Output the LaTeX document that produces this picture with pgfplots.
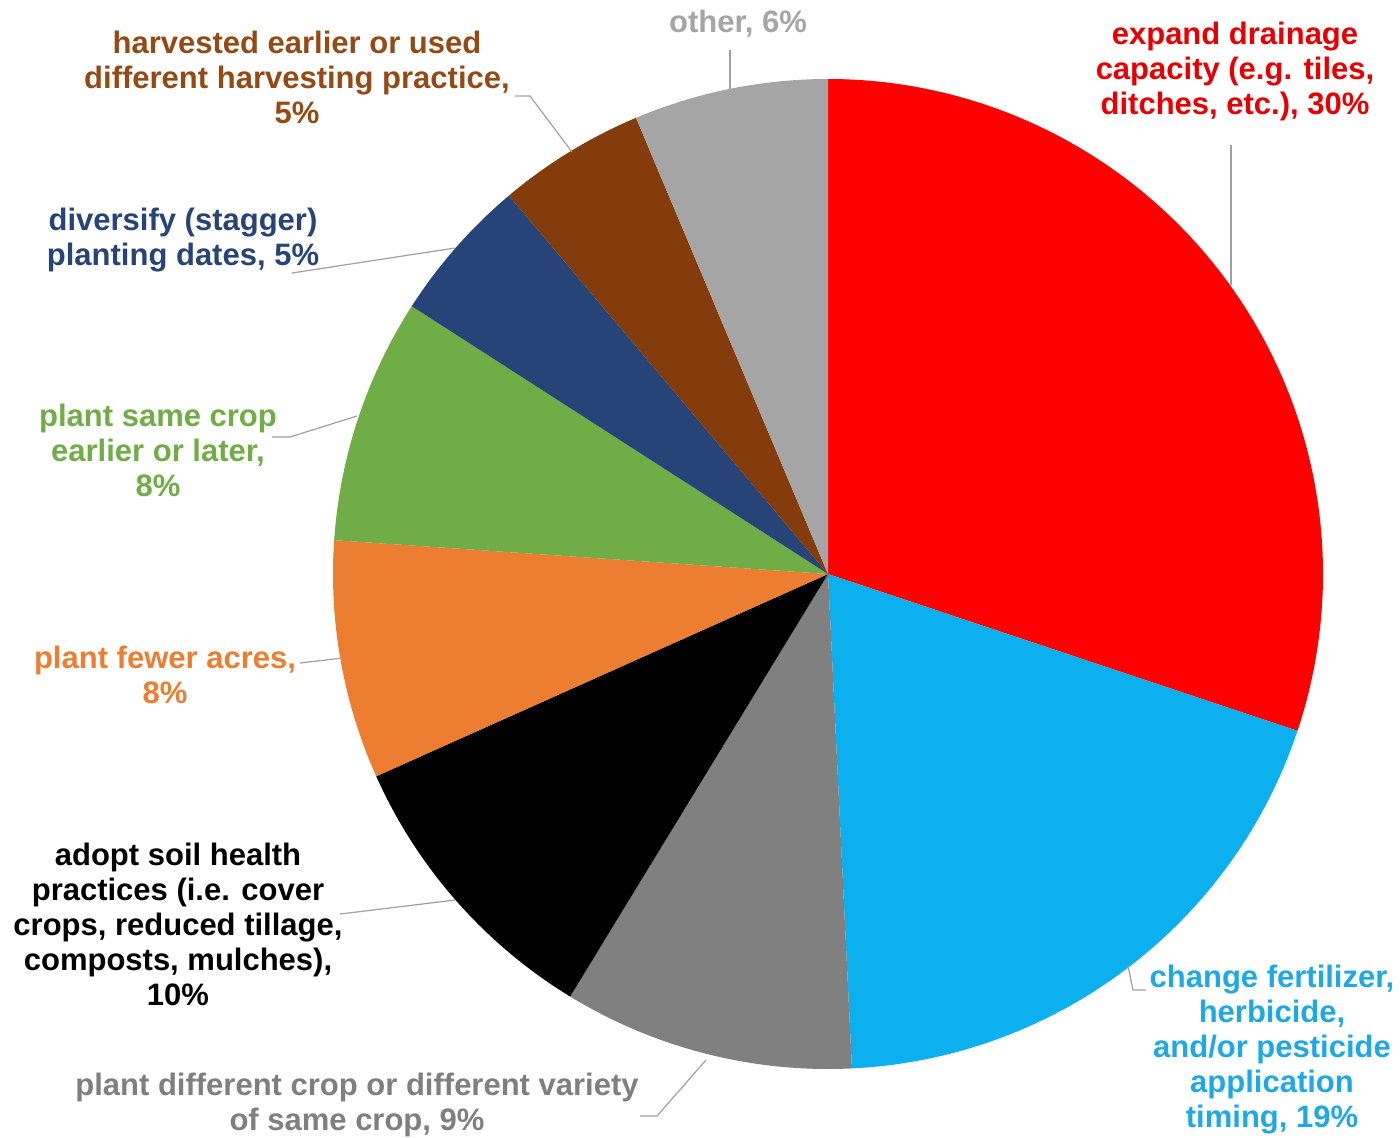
\documentclass[border=0pt]{standalone}
\usepackage{pgfplots}
\pgfplotsset{compat=1.18}
\usepackage{pgfplotstable}
\usepackage{fontspec}
\setmainfont{Liberation Sans}
\definecolor{cRed}{HTML}{FF0000}
\definecolor{cCyan}{HTML}{0DB0EE}
\definecolor{cGray}{HTML}{808080}
\definecolor{cBlack}{HTML}{000000}
\definecolor{cOrange}{HTML}{ED7D31}
\definecolor{cGreen}{HTML}{70AD47}
\definecolor{cNavy}{HTML}{264478}
\definecolor{cBrown}{HTML}{843C0C}
\definecolor{cLight}{HTML}{A5A5A5}
\definecolor{tRed}{HTML}{E80000}
\definecolor{tCyan}{HTML}{1EA9E4}
\definecolor{tGray}{HTML}{7F7F7F}
\definecolor{tBrown}{HTML}{954A15}
\definecolor{leader}{HTML}{A0A0A0}
\tikzset{lbl/.style={align=center,font=\bfseries\fontsize{15.5}{17.5}\selectfont}}
\pgfplotstableread[col sep=comma]{
label,value,color
drainage,30.13,cRed
fertilizer,19.10,cCyan
diffcrop,9.49,cGray
soilhealth,9.58,cBlack
fewer,7.79,cOrange
samecrop,8.01,cGreen
diversify,4.75,cNavy
harvest,4.81,cBrown
other,6.34,cLight
}\piedata
\begin{document}
\begin{tikzpicture}
\begin{axis}[x=0.5pt,y=0.5pt,xmin=0,xmax=1400,ymin=0,ymax=1137,
  y dir=reverse,hide axis,clip=false]
\pgfplotsextra{
  \xdef\cumangle{90}
  \foreach \i in {0,...,8}{
    \pgfplotstablegetelem{\i}{value}\of\piedata \let\sliceval\pgfplotsretval
    \pgfplotstablegetelem{\i}{color}\of\piedata \let\slicecolor\pgfplotsretval
    \pgfmathsetmacro\endangle{\cumangle-3.6*\sliceval}
    \fill[fill=\slicecolor] (axis cs:828,574) -- ++(\cumangle:247.5pt)
      arc[start angle=\cumangle,end angle=\endangle,radius=247.5pt] -- cycle;
    \xdef\cumangle{\endangle}
  }
}
% leader lines
\draw[leader,line width=0.6pt] (axis cs:1231,145) -- (axis cs:1231,285);
\draw[leader,line width=0.6pt] (axis cs:1128,966) -- (axis cs:1133,990) -- (axis cs:1146,990);
\draw[leader,line width=0.6pt] (axis cs:640,1116) -- (axis cs:657,1116) -- (axis cs:706,1060);
\draw[leader,line width=0.6pt] (axis cs:340,914) -- (axis cs:455,900);
\draw[leader,line width=0.6pt] (axis cs:300,663) -- (axis cs:342,658);
\draw[leader,line width=0.6pt] (axis cs:272,437) -- (axis cs:290,437) -- (axis cs:357,416);
\draw[leader,line width=0.6pt] (axis cs:292,273) -- (axis cs:455,248);
\draw[leader,line width=0.6pt] (axis cs:515,96) -- (axis cs:530,96) -- (axis cs:572,152);
\draw[leader,line width=0.6pt] (axis cs:730,50) -- (axis cs:730,89);
% labels
\node[lbl,text=tRed] at (axis cs:1235,71) {expand drainage\\capacity (e.g. tiles,\\ditches, etc.), 30\%};
\node[lbl,text=tCyan] at (axis cs:1272,1050) {change fertilizer,\\herbicide,\\and/or pesticide\\application\\timing, 19\%};
\node[lbl,text=tGray] at (axis cs:357,1105) {plant different crop or different variety\\of same crop, 9\%};
\node[lbl,text=black] at (axis cs:178,924) {adopt soil health\\practices (i.e. cover\\crops, reduced tillage,\\composts, mulches),\\10\%};
\node[lbl,text=cOrange] at (axis cs:165,675) {plant fewer acres,\\8\%};
\node[lbl,text=cGreen] at (axis cs:158,450) {plant same crop\\earlier or later,\\8\%};
\node[lbl,text=cNavy] at (axis cs:183,240) {diversify (stagger)\\planting dates, 5\%};
\node[lbl,text=tBrown] at (axis cs:297,77) {harvested earlier or used\\different harvesting practice,\\5\%};
\node[lbl,text=cLight] at (axis cs:738,24) {other, 6\%};
\end{axis}
\pgfresetboundingbox
\path (current axis.south west) rectangle (current axis.north east);
\end{tikzpicture}
\end{document}
